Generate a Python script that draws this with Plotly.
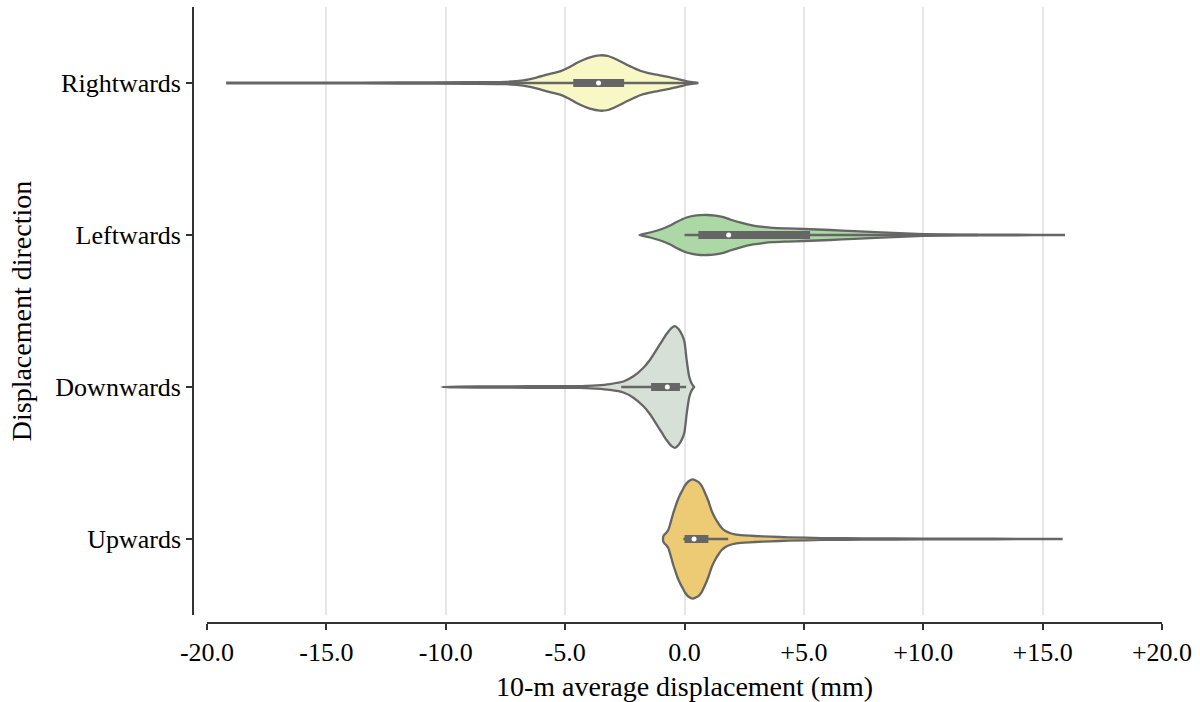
import plotly.graph_objects as go

# ---------------- data ----------------
categories = ["Rightwards", "Leftwards", "Downwards", "Upwards"]
fill_colors = ["#f8f8c6", "#abd8a5", "#d6e0d6", "#edcb74"]

# kernel density profiles (x in mm, relative density, peak of the widest = 100)
right_x = [-19.2, -15, -12, -9, -7.5, -6.75, -6.2, -5.77, -5.21, -4.85, -4.52, -4.2, -3.96,
           -3.54, -3.2, -2.98, -2.7, -2.42, -2.1, -1.86, -1.5, -1.16, -0.8, -0.47, -0.15,
           0.09, 0.35, 0.58]
right_d = [0.5, 0.7, 0.8, 1.2, 1.8, 4.4, 9.0, 13.7, 19.2, 25.5, 32.9, 38.7, 42.3,
           45.6, 44.4, 41.1, 35.9, 30.1, 24.3, 20.2, 16.4, 13.7, 10.9, 8.2, 5.3,
           2.8, 1.2, 0.0]

left_x = [-1.89, -1.44, -0.89, -0.6, -0.33, 0.09, 0.5, 0.95, 1.3, 1.63, 1.91, 2.32, 2.88,
          3.3, 3.7, 4.3, 5.0, 6.1, 7.1, 8.0, 9.0, 10.0, 11.5, 13.5, 15.94]
left_d = [0.0, 4.1, 10.7, 15.6, 21.4, 28.8, 32.1, 32.9, 31.7, 29.3, 25.5, 20.6, 15.6,
          13.2, 11.8, 10.9, 9.9, 8.2, 6.3, 4.6, 3.0, 1.5, 0.7, 0.5, 0.0]

down_x = [-10.17, -9.5, -8, -6.5, -5.2, -4.38, -4.1, -3.68, -3.12, -2.56, -2.14, -1.73,
          -1.45, -1.1, -0.89, -0.75, -0.55, -0.40, -0.25, -0.1, 0.0, 0.09, 0.2, 0.3, 0.40]
down_d = [0.0, 0.7, 1.0, 1.2, 1.3, 1.6, 2.0, 2.8, 4.9, 9.0, 17.6, 31.3,
          44.4, 65.8, 78.9, 87.2, 97.0, 100.0, 95.4, 85.5, 74.0, 44.4, 16.4, 5.8, 0.0]

up_x = [-0.90, -0.88, -0.82, -0.75, -0.68, -0.61, -0.54, -0.47, -0.40, -0.30, -0.19, -0.08,
        0.02, 0.16, 0.35, 0.58, 0.72, 0.86, 1.0, 1.14, 1.28, 1.42, 1.56, 1.70, 1.9, 2.12,
        2.5, 2.95, 3.6, 4.35, 5.75, 7.5, 10, 13, 15.84]
up_d = [0.0, 4.9, 8.2, 10.7, 14.8, 23.0, 32.9, 42.8, 51.0, 62.5, 72.4, 80.6,
        88.0, 94.6, 98.2, 93.8, 87.2, 75.7, 62.5, 46.1, 34.5, 25.5, 18.1, 13.5, 9.9, 7.7,
        6.1, 4.9, 3.8, 2.8, 1.6, 1.0, 0.7, 0.5, 0.0]

# inner box statistics: lower whisker, Q1, median, Q3, upper whisker
whisker_low = [-7.85, 0.0, -2.65, -0.05]
q1 = [-4.66, 0.58, -1.40, 0.0]
median = [-3.60, 1.85, -0.72, 0.40]
q3 = [-2.53, 5.26, -0.19, 1.0]
whisker_high = [0.5, 12.3, 0.07, 1.83]

x_tickvals = [-20, -15, -10, -5, 0, 5, 10, 15, 20]
x_ticktext = ["-20.0", "-15.0", "-10.0", "-5.0", "0.0", "+5.0", "+10.0", "+15.0", "+20.0"]

profiles = [(right_x, right_d), (left_x, left_d), (down_x, down_d), (up_x, up_d)]

# ---------------- figure ----------------
FONT = "Liberation Serif"
GRAY = "#666666"
HALF_WIDTH = 0.4  # seaborn width 0.8

fig = go.Figure()
for i, (cat, (xs, ds)) in enumerate(zip(categories, profiles)):
    halves = [d / 100.0 * HALF_WIDTH for d in ds]
    px = list(xs) + list(xs[::-1])
    py = [i - h for h in halves] + [i + h for h in halves[::-1]]
    fig.add_trace(go.Scatter(x=px, y=py, mode="lines", fill="toself",
                             fillcolor=fill_colors[i],
                             line=dict(color=GRAY, width=2.3, shape="spline", smoothing=0.5),
                             name=cat, showlegend=False, hoverinfo="skip"))
    fig.add_trace(go.Scatter(x=[whisker_low[i], whisker_high[i]], y=[i, i], mode="lines",
                             line=dict(color=GRAY, width=2.5), showlegend=False,
                             hoverinfo="skip"))
    fig.add_trace(go.Scatter(x=[q1[i], q3[i]], y=[i, i], mode="lines",
                             line=dict(color=GRAY, width=8), showlegend=False,
                             hoverinfo="skip"))
    fig.add_trace(go.Scatter(x=[median[i]], y=[i], mode="markers",
                             marker=dict(color="white", size=5, line=dict(width=0)),
                             showlegend=False, hoverinfo="skip"))

AX = "#333333"
fig.update_layout(
    width=1200, height=702,
    margin=dict(l=193, r=38, t=7, b=79, autoexpand=False),
    paper_bgcolor="white", plot_bgcolor="white",
    font=dict(family=FONT, color="black", size=26),
    xaxis=dict(
        domain=[14 / 969, 1], range=[-20, 20], anchor="free", position=0,
        tickvals=x_tickvals, ticktext=x_ticktext,
        showgrid=True, gridcolor="#e6e6e6", gridwidth=1.5, zeroline=False,
        showline=True, linecolor=AX, linewidth=1.6,
        ticks="outside", ticklen=6, tickwidth=1.6, tickcolor=AX,
        tickfont=dict(family=FONT, size=26, color="black"),
        title=dict(text="10-m average displacement (mm)",
                   font=dict(family=FONT, size=28, color="black"), standoff=10),
        automargin=False,
    ),
    yaxis=dict(
        domain=[8 / 616, 1], range=[3.5, -0.5], anchor="free", position=0,
        tickvals=list(range(len(categories))), ticktext=categories,
        showgrid=False, zeroline=False,
        showline=True, linecolor=AX, linewidth=1.6,
        ticks="outside", ticklen=6, tickwidth=1.6, tickcolor=AX,
        tickfont=dict(family=FONT, size=26, color="black"),
        title=dict(text="Displacement direction",
                   font=dict(family=FONT, size=28, color="black"), standoff=15),
        automargin=False,
    ),
)

fig.write_html("out.html", config={"displayModeBar": False},
               post_script="document.body.style.margin='0';")
